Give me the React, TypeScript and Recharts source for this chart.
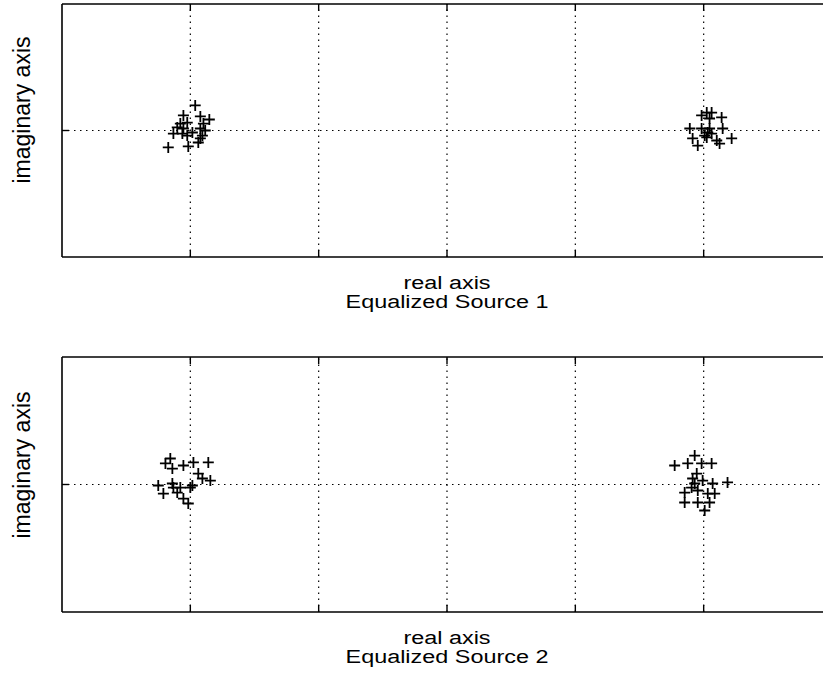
import React from 'react';
import { ScatterChart, Scatter, XAxis, YAxis, ReferenceLine } from 'recharts';

// Equalized Source 1 (real, imaginary)
const src1Real = [
  -0.981, -1.027, -0.961, -0.926, -1.039, -1.012, -0.949, -1.051, -1.027, -0.961,
  -0.942, -1.066, -1.031, -1.012, -0.961, -0.953, -1.086, -1.008, -0.969, -0.992,
  1.012, 1.031, 0.992, 1.07, 1.023, 0.946, 0.992, 1.074, 1.016, 1.031,
  0.957, 1.012, 1.051, 1.109, 0.977, 1.062, 1.004, 1.023,
];
const src1Imag = [
  0.198, 0.119, 0.111, 0.087, 0.055, 0.063, 0.055, 0.024, 0.016, 0.016,
  0.0, -0.024, -0.024, -0.04, -0.063, -0.04, -0.134, -0.126, -0.095, -0.016,
  0.142, 0.142, 0.119, 0.103, 0.095, 0.016, 0.016, 0.016, -0.016, -0.024,
  -0.063, -0.055, -0.079, -0.063, -0.119, -0.103, -0.04, 0.016,
];

// Equalized Source 2 (real, imaginary)
const src2Real = [
  -1.078, -1.097, -1.07, -1.027, -0.988, -0.93, -0.969, -0.953, -0.922, -1.125,
  -1.07, -1.039, -1.0, -1.105, -1.051, -1.027, -1.008, -0.992, -1.066,
  0.965, 0.887, 0.938, 0.992, 1.031, 0.973, 0.957, 0.965, 0.996, 1.035,
  1.093, 0.926, 0.977, 1.016, 1.043, 0.926, 0.977, 1.023, 1.004, 0.953,
];
const src2Imag = [
  0.204, 0.165, 0.125, 0.149, 0.173, 0.173, 0.086, 0.047, 0.031, -0.008,
  0.008, -0.024, -0.024, -0.071, -0.063, -0.11, -0.149, -0.008, -0.024,
  0.227, 0.149, 0.165, 0.165, 0.165, 0.086, 0.047, 0.008, 0.031, 0.008,
  0.016, -0.063, -0.047, -0.071, -0.071, -0.141, -0.141, -0.141, -0.204, -0.024,
];

const realTicks = [-1, -0.5, 0, 0.5, 1];
const imagTicks = [0];
const realDomain = [-1.5, 1.5];
const imagDomain = [-1, 1];

const titles = ['Equalized Source 1', 'Equalized Source 2'];
const xLabel = 'real axis';
const yLabel = 'imaginary axis';

const toPoints = (xs: number[], ys: number[]) => xs.map((x, i) => ({ x, y: ys[i] }));

const Plus = (props: any) => {
  const { cx, cy } = props;
  if (cx == null || cy == null) return null;
  const r = 5.5;
  return (
    <path
      d={`M${cx - r},${cy}H${cx + r}M${cx},${cy - r}V${cy + r}`}
      stroke="#000"
      strokeWidth={1.8}
      fill="none"
    />
  );
};

const NoLabel = () => <g />;

const FONT = '"Liberation Sans", Arial, Helvetica, sans-serif';
const axisLine = { stroke: '#000', strokeWidth: 1.6 };
const tickLine = { stroke: '#000', strokeWidth: 1.4 };
const gridStyle = { stroke: '#000', strokeDasharray: '1.5 4.5', strokeWidth: 1.2 };

function Panel({ top, height, bottomMargin, data }: any) {
  return (
    <div style={{ position: 'absolute', left: 0, top, width: 823, height: height, overflow: 'hidden' }}>
      <ScatterChart width={840} height={height} margin={{ top: 4, right: 8, bottom: bottomMargin, left: 62 }}>
        <XAxis
          xAxisId="b"
          type="number"
          dataKey="x"
          domain={realDomain}
          ticks={realTicks}
          allowDataOverflow
          orientation="bottom"
          tick={<NoLabel />}
          mirror
          tickSize={7}
          axisLine={axisLine}
          tickLine={tickLine}
        />
        <XAxis
          xAxisId="t"
          type="number"
          dataKey="x"
          domain={realDomain}
          ticks={realTicks}
          allowDataOverflow
          orientation="top"
          tick={<NoLabel />}
          mirror
          tickSize={7}
          axisLine={axisLine}
          tickLine={tickLine}
        />
        <YAxis
          yAxisId="l"
          type="number"
          dataKey="y"
          domain={imagDomain}
          ticks={imagTicks}
          allowDataOverflow
          tick={<NoLabel />}
          mirror
          tickSize={7}
          axisLine={axisLine}
          tickLine={tickLine}
        />
        {realTicks.map((t) => (
          <ReferenceLine key={'x' + t} xAxisId="b" yAxisId="l" x={t} {...gridStyle} />
        ))}
        {imagTicks.map((t) => (
          <ReferenceLine key={'y' + t} xAxisId="b" yAxisId="l" y={t} {...gridStyle} />
        ))}
        <Scatter
          xAxisId="b"
          yAxisId="l"
          data={data}
          shape={<Plus />}
          isAnimationActive={false}
        />
      </ScatterChart>
    </div>
  );
}

const textBlock = (top: number, lines: string[]) => (
  <div
    style={{
      position: 'absolute',
      left: 247,
      top,
      width: 400,
      textAlign: 'center',
      fontFamily: FONT,
      fontSize: 18,
      lineHeight: '19px',
      color: '#000',
      transform: 'scaleX(1.3)',
      transformOrigin: '200px 0',
      whiteSpace: 'nowrap',
    }}
  >
    {lines.map((l, i) => (
      <div key={i}>{l}</div>
    ))}
  </div>
);

const yLabelDiv = (cy: number) => (
  <div
    style={{
      position: 'absolute',
      left: 22,
      top: cy,
      transform: 'translate(-50%, -50%) rotate(-90deg)',
      fontFamily: FONT,
      fontSize: 23,
      lineHeight: '24px',
      color: '#000',
      whiteSpace: 'nowrap',
    }}
  >
    {yLabel}
  </div>
);

export default function App() {
  const d1 = toPoints(src1Real, src1Imag);
  const d2 = toPoints(src2Real, src2Imag);
  return (
    <div style={{ position: 'absolute', left: 0, top: 0, width: 823, height: 673, background: '#fff', overflow: 'hidden' }}>
      <Panel top={0} height={330} bottomMargin={73} data={d1} />
      <Panel top={353} height={320} bottomMargin={61} data={d2} />
      {textBlock(274, [xLabel, titles[0]])}
      {textBlock(629, [xLabel, titles[1]])}
      {yLabelDiv(110)}
      {yLabelDiv(465)}
    </div>
  );
}
